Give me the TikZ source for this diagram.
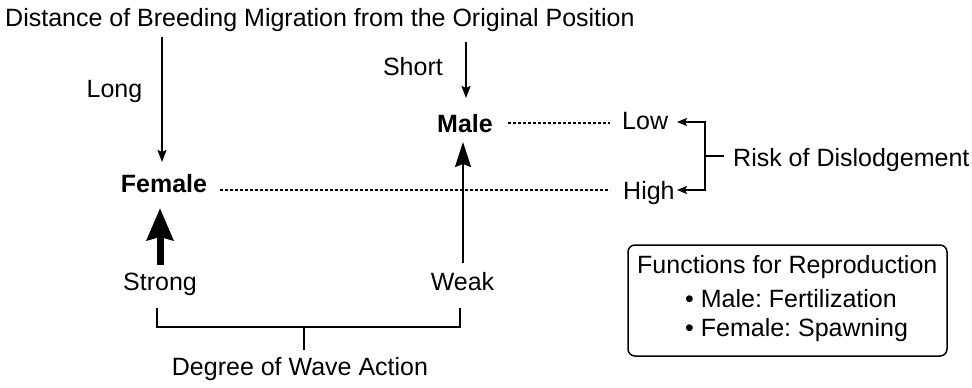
\documentclass[tikz,border=0pt]{standalone}
\usepackage{fontspec}
\setmainfont{Liberation Sans}
\usetikzlibrary{arrows.meta}
\frenchspacing
\begin{document}
\begin{tikzpicture}[x=1pt,y=-1pt,
  lbl/.style={font=\fontsize{25}{30}\selectfont, inner sep=0pt, anchor=base},
  blbl/.style={lbl, font=\fontsize{25}{30}\selectfont\bfseries},
  thinarrow/.style={line width=1.8pt, -{Stealth[length=12pt,width=9pt,inset=2pt]}},
  malearrow/.style={line width=2.2pt, -{Stealth[length=25pt,width=16pt,inset=3pt]}},
  femarrow/.style={line width=7pt, -{Stealth[length=32pt,width=26pt,inset=3pt]}},
  riskline/.style={line width=1.6pt, line join=miter, {Stealth[length=10pt,width=8pt,inset=2pt]}-{Stealth[length=10pt,width=8pt,inset=2pt]}},
  bracket/.style={line width=1.6pt, line join=miter},
  dashline/.style={line width=1.3pt, dash pattern=on 3pt off 2pt},
  infobox/.style={draw, rounded corners=7pt, line width=1.5pt, inner sep=0pt}
]
\useasboundingbox (0,0) rectangle (972,388);

% texts
\node[lbl, anchor=base west] (title) at (5,27) {Distance of Breeding Migration from the Original Position};
\node[lbl] (long) at (114.5,97) {Long};
\node[lbl, anchor=base east] (short) at (443,75) {Short};
\node[blbl] (male) at (465,132) {Male};
\node[blbl] (fem) at (164,192) {Female};
\node[lbl, anchor=base west] (low) at (622,129) {Low};
\node[lbl, anchor=base west] (high) at (623,199) {High};
\node[lbl, anchor=base west] (risk) at (733,166) {Risk of Dislodgement};
\node[lbl] (strong) at (160,290) {Strong};
\node[lbl] (weak) at (462.5,290) {Weak};
\node[lbl] (degree) at (300,375) {Degree of Wave Action};

% info box
\coordinate (boxnw) at (628,245);
\coordinate (boxse) at (947,356);
\draw[infobox] (boxnw) rectangle (boxse);
\node[lbl, anchor=base west] (fn) at (637,273) {Functions for Reproduction};
\node[lbl, anchor=base west] (fm) at (685,307) {\textbullet\ Male: Fertilization};
\node[lbl, anchor=base west] (ff) at (685,336) {\textbullet\ Female: Spawning};

% migration arrows
\coordinate (longtop) at (162,37);
\coordinate (longtip) at (162,162);
\draw[thinarrow] (longtop) -- (longtip);
\coordinate (shorttop) at (466,42);
\coordinate (shorttip) at (466,98);
\draw[thinarrow] (shorttop) -- (shorttip);

% wave action arrows
\coordinate (weaktop) at (463,263);
\coordinate (maletip) at (463,142);
\draw[malearrow] (weaktop) -- (maletip);
\coordinate (strongtop) at (160,265);
\coordinate (femtip) at (160,208);
\draw[femarrow] (strongtop) -- (femtip);

% dashed lines
\coordinate (md1) at (508,123);
\coordinate (md2) at (610,123);
\draw[dashline] (md1) -- (md2);
\coordinate (fd1) at (220,190);
\coordinate (fd2) at (610,190);
\draw[dashline] (fd1) -- (fd2);

% risk bracket
\coordinate (lowtip) at (677,122);
\coordinate (hightip) at (677,190);
\coordinate (rb1) at (705,122);
\coordinate (rb2) at (705,190);
\coordinate (rbm) at (705,156);
\coordinate (rbt) at (724,156);
\draw[riskline] (lowtip) -- (rb1) -- (rb2) -- (hightip);
\draw[bracket] (rbm) -- (rbt);

% wave bracket
\coordinate (wb1) at (157,308);
\coordinate (wb2) at (157,327);
\coordinate (wb3) at (460,327);
\coordinate (wb4) at (460,308);
\coordinate (wbm) at (304,327);
\coordinate (wbt) at (304,350);
\draw[bracket] (wb1) -- (wb2) -- (wb3) -- (wb4);
\draw[bracket] (wbm) -- (wbt);
\end{tikzpicture}
\end{document}
